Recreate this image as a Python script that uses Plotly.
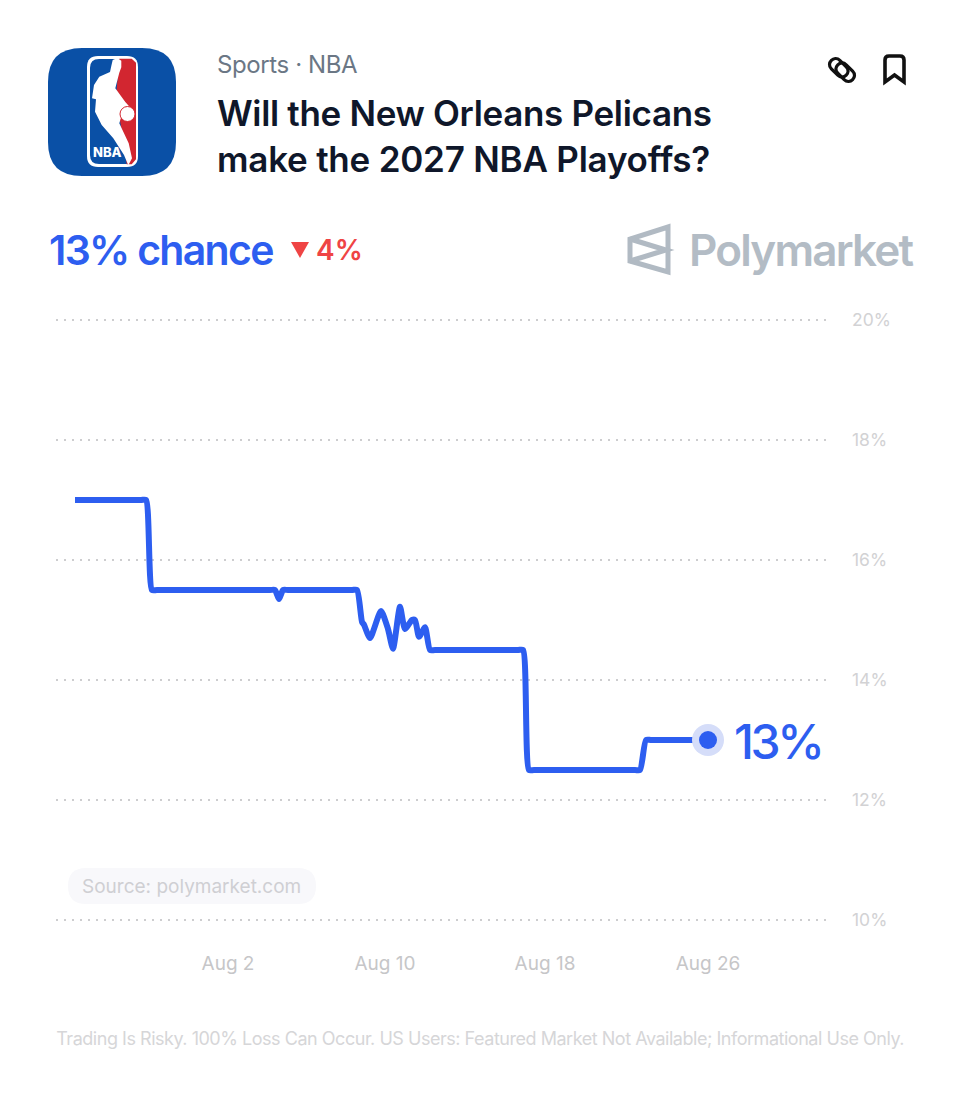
import json

import plotly.graph_objects as go

# ---------------------------
# Data
# ---------------------------
times = [
    "2026-07-25 08:24", "2026-07-28 15:36", "2026-07-28 21:36", "2026-07-29 04:48", "2026-07-29 10:48",
    "2026-08-04 02:24", "2026-08-04 08:24", "2026-08-04 13:12", "2026-08-04 18:00", "2026-08-05 00:00",
    "2026-08-08 04:48", "2026-08-08 10:48", "2026-08-08 16:48", "2026-08-08 19:12", "2026-08-09 02:24",
    "2026-08-09 15:36", "2026-08-10 00:00", "2026-08-10 06:00", "2026-08-10 14:24", "2026-08-10 20:24",
    "2026-08-11 04:48", "2026-08-11 08:24", "2026-08-11 13:12", "2026-08-11 20:24", "2026-08-12 02:24",
    "2026-08-12 08:24", "2026-08-16 12:00", "2026-08-16 18:00", "2026-08-17 01:12", "2026-08-17 07:12",
    "2026-08-22 08:24", "2026-08-22 14:24", "2026-08-22 21:36", "2026-08-23 03:36", "2026-08-26 00:00",
]
chance = [
    17.0, 17.0, 17.0, 15.5, 15.5,
    15.5, 15.5, 15.35, 15.5, 15.5,
    15.5, 15.5, 14.97, 14.92, 14.7,
    15.15, 14.85, 14.52, 15.22, 14.85,
    15.0, 15.0, 14.72, 14.88, 14.5,
    14.5, 14.5, 14.5, 12.5, 12.5,
    12.5, 12.5, 13.0, 13.0, 13.0,
]
x_tick_times = ["2026-08-02 00:00", "2026-08-09 20:24", "2026-08-17 20:24", "2026-08-26 00:00"]
x_tick_labels = ["Aug 2", "Aug 10", "Aug 18", "Aug 26"]
y_ticks = [10, 12, 14, 16, 18, 20]

BLUE = "#2d5ef0"
FONT = "Inter"
W, H = 960, 1098


def page_shape(path, fill=None, line=None, width=0):
    return dict(type="path", path=path, xref="x2", yref="y2", layer="above",
                fillcolor=fill or "rgba(0,0,0,0)",
                line=dict(color=line or "rgba(0,0,0,0)", width=width))


def rrect(x0, y0, x1, y1, r):
    return (f"M{x0 + r},{y0} L{x1 - r},{y0} Q{x1},{y0} {x1},{y0 + r} L{x1},{y1 - r} "
            f"Q{x1},{y1} {x1 - r},{y1} L{x0 + r},{y1} Q{x0},{y1} {x0},{y1 - r} "
            f"L{x0},{y0 + r} Q{x0},{y0} {x0 + r},{y0} Z")


def link_ring(ax, ay, bx, by, r):
    # stadium running along the 45 degree diagonal from a to b
    n = r * 0.7071
    c = r * 0.7071 * 1.33
    return (f"M{ax + n},{ay - n} L{bx + n},{by - n} "
            f"C{bx + n + c},{by - n + c} {bx - n + c},{by + n + c} {bx - n},{by + n} "
            f"L{ax - n},{ay + n} "
            f"C{ax - n - c},{ay + n - c} {ax + n - c},{ay - n - c} {ax + n},{ay - n} Z")


def logo_path(points):
    # points come from the 3x zoom of the logo, origin (30, 30)
    pts = [f"{30 + x / 3:.1f},{30 + y / 3:.1f}" for x, y in points]
    return "M" + " L".join(pts) + " Z"


def text(s, x, y, size, color, weight=400, anchor="left", family=FONT):
    return dict(text=s, x=x, y=y, xref="x2", yref="y2", showarrow=False,
                xanchor=anchor, yanchor="middle", align=anchor,
                font=dict(family=family, size=size, color=color, weight=weight))


fig = go.Figure()

fig.add_trace(go.Scatter(
    x=times, y=chance, mode="lines",
    line=dict(color=BLUE, width=6, shape="spline", smoothing=0.6),
    hoverinfo="skip", showlegend=False,
))
# end marker: halo and dot on the last value
fig.add_trace(go.Scatter(
    x=times[-1:], y=chance[-1:], mode="markers",
    marker=dict(size=32, color="#d5ddf9"), hoverinfo="skip", showlegend=False,
))
fig.add_trace(go.Scatter(
    x=times[-1:], y=chance[-1:], mode="markers",
    marker=dict(size=18, color=BLUE), hoverinfo="skip", showlegend=False,
))
# invisible trace that switches on the page-pixel overlay axes
fig.add_trace(go.Scatter(x=[0], y=[0], xaxis="x2", yaxis="y2", mode="markers",
                         marker=dict(opacity=0), hoverinfo="skip", showlegend=False))

shapes = [
    # NBA icon
    page_shape(rrect(48, 48, 176, 176, 34), fill="#0a50a6"),
    page_shape(rrect(87, 56, 138, 167, 11), fill="#ffffff"),
    page_shape(rrect(90, 59, 135, 164, 9), fill="#0a50a6"),
    page_shape(logo_path([(268, 86), (305, 86), (318, 98), (318, 388), (305, 403), (290, 403),
                          (280, 330), (258, 200)]), fill="#d22630"),
    page_shape(logo_path([(248, 90), (262, 84), (274, 92), (274, 112), (268, 128), (256, 175),
                          (286, 216), (300, 232), (280, 240), (268, 280), (296, 340),
                          (306, 385), (295, 406), (282, 375), (250, 325), (215, 285),
                          (195, 245), (198, 208), (186, 205), (192, 165), (208, 140),
                          (240, 126), (244, 108)]), fill="#ffffff"),
    dict(type="circle", xref="x2", yref="y2", x0=120, x1=135, y0=106.5, y1=121.5, layer="above",
         fillcolor="#ffffff", line=dict(color="#d22630", width=1)),
    # link icon
    page_shape(link_ring(835.6, 64.6, 842, 71, 6), line="#111111", width=3.2),
    page_shape(link_ring(842, 69, 848.4, 75.4, 6), line="#111111", width=3.2),
    # bookmark icon
    page_shape("M885,82 L885,60 Q885,56 889,56 L900,56 Q904,56 904,60 L904,82 L894.5,75 Z",
               line="#111111", width=3.6),
    # change triangle
    page_shape("M291,242 L309,242 L300,258 Z", fill="#ef4444"),
    # Polymarket mark
    page_shape("M668,227 L668,272 L630,261 L630,239 Z", line="#b1bac3", width=5),
    page_shape("M630,239 L666,250 L630,261", line="#b1bac3", width=5),
    # source pill
    page_shape(rrect(68, 868, 316, 904, 18), fill="#f8f8fb"),
]

annotations = [
    text("Sports · NBA", 214.5, 64, 24, "#6b7785"),
    text("Will the New Orleans Pelicans", 215, 113, 35, "#0f172a", 600),
    text("make the 2027 NBA Playoffs?", 215, 159, 35, "#0f172a", 600),
    text("13% chance", 47, 250, 41, BLUE, 600),
    text("4%", 314, 250, 28, "#ef4444", 600),
    text("Polymarket", 687, 250, 44, "#b3bcc5", 600),
    text("13%", 732, 741, 48, BLUE, 500),
    text("NBA", 107.7, 152, 13, "#ffffff", 800),
    text("Source: polymarket.com", 80, 886, 19, "#cfcfd3"),
    text("Trading Is Risky. 100% Loss Can Occur. US Users: Featured Market Not Available; "
         "Informational Use Only.", 480, 1038, 18, "#d6d6d8", 400, "center"),
]
annotations[7].update(xanchor="center", align="center")
# the reference face is set tighter than the installed Inter, px per glyph by annotation
tracking = [-0.4, -0.33, -0.22, -1.7, 0, -1.8, -3.4, 0, 0, -0.47]

fig.update_layout(
    width=W, height=H,
    margin=dict(l=0, r=0, t=0, b=0),
    paper_bgcolor="#ffffff", plot_bgcolor="rgba(0,0,0,0)",
    shapes=shapes, annotations=annotations,
    xaxis=dict(
        type="date", domain=[56 / W, 830 / W],
        range=["2026-07-24 09:36", "2026-09-01 02:24"],
        tickmode="array", tickvals=x_tick_times, ticktext=x_tick_labels,
        showgrid=False, zeroline=False, showline=False, ticks="",
        tickfont=dict(family=FONT, size=19, color="#c6c6c8"), anchor="y",
    ),
    yaxis=dict(
        domain=[1 - 950 / H, 1 - 290 / H], range=[9.5, 20.5], side="right",
        tickmode="array", tickvals=y_ticks, ticktext=[f"{v}%" for v in y_ticks],
        showgrid=True, gridcolor="#cdcdcf", gridwidth=2, griddash="1.5px 6.5px",
        zeroline=False, showline=False, ticks="", ticklabelstandoff=21,
        tickfont=dict(family=FONT, size=17.5, color="#d2d2d4"), anchor="x",
    ),
    xaxis2=dict(domain=[0, 1], range=[0, W], visible=False, anchor="y2"),
    yaxis2=dict(domain=[0, 1], range=[H, 0], visible=False, anchor="x2"),
)

post = (
    "document.body.style.margin='0';"
    f"var tracking={json.dumps(tracking)};"
    "document.querySelectorAll('.annotation').forEach(function(a){"
    "var t=a.querySelector('text');var i=+a.getAttribute('data-index');"
    "if(t&&tracking[i]){t.style.letterSpacing=tracking[i]+'px';}});"
)
fig.write_html("out.html", post_script=post, config=dict(displayModeBar=False))
